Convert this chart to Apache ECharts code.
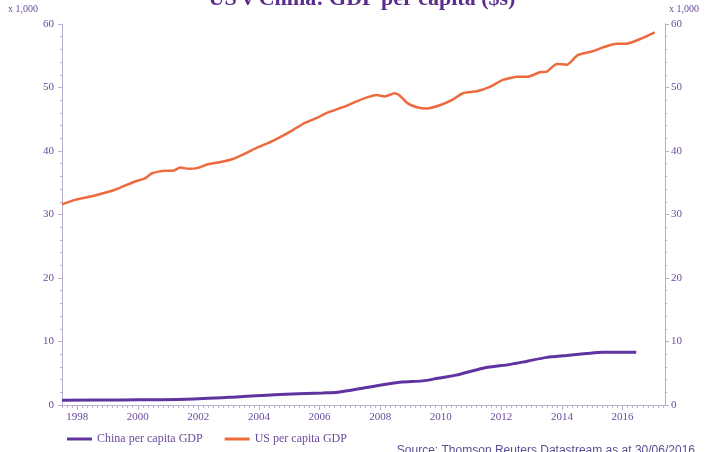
<!DOCTYPE html>
<html>
<head>
<meta charset="utf-8">
<script src="https://cdn.jsdelivr.net/npm/echarts@6/dist/echarts.min.js"></script>
<style>
  html, body { margin: 0; padding: 0; background: #ffffff; }
  #chart { width: 724px; height: 452px; }
</style>
</head>
<body>
<div id="chart"></div>
<script>
// US nominal GDP per capita, thousands of dollars
const usYears = [1997.5, 1997.93, 1998.59, 1999.25, 1999.91, 2000.24, 2000.47, 2000.90, 2001.17, 2001.40,
  2001.66, 2001.96, 2002.32, 2002.78, 2003.11, 2003.54, 2003.97, 2004.46, 2005.12, 2005.50,
  2005.91, 2006.24, 2006.77, 2007.43, 2007.89, 2008.15, 2008.48, 2008.65, 2008.91, 2009.21,
  2009.54, 2009.97, 2010.36, 2010.73, 2011.19, 2011.62, 2012.05, 2012.54, 2012.87, 2013.27,
  2013.50, 2013.83, 2014.16, 2014.52, 2015.01, 2015.34, 2015.80, 2016.13, 2016.56, 2017.06];
const usGdp = [31.6, 32.3, 33.0, 33.9, 35.2, 35.7, 36.5, 36.9, 36.9, 37.4,
  37.2, 37.3, 37.9, 38.3, 38.7, 39.6, 40.6, 41.6, 43.3, 44.4,
  45.2, 46.0, 46.9, 48.2, 48.8, 48.6, 49.1, 48.7, 47.5, 46.9,
  46.7, 47.2, 48.0, 49.1, 49.4, 50.1, 51.2, 51.7, 51.7, 52.4,
  52.5, 53.7, 53.6, 55.1, 55.7, 56.3, 56.9, 56.9, 57.6, 58.7];

// China nominal GDP per capita, thousands of dollars
const chinaYears = [1997.5, 1999.5, 2001.6, 2003.4, 2004.5, 2006.1, 2006.6, 2007.6, 2008.65, 2009.4,
  2009.9, 2010.5, 2011.4, 2012.3, 2012.85, 2013.5, 2014.15, 2014.8, 2015.35, 2016.45];
const chinaGdp = [0.75, 0.8, 0.9, 1.3, 1.6, 1.9, 2.0, 2.8, 3.6, 3.8,
  4.2, 4.7, 5.8, 6.4, 6.9, 7.5, 7.8, 8.1, 8.3, 8.3];

// Axis labelling
const yearLabels = [1998, 2000, 2002, 2004, 2006, 2008, 2010, 2012, 2014, 2016];
const xMin = 1997.5;
const xMax = 2017.4;
const yMin = 0;
const yMax = 60;
const yStep = 10;

const seriesNames = ['China per capita GDP', 'US per capita GDP'];
const chartTitle = 'US v China: GDP per capita ($s)';
const unitNote = 'x 1,000';
const sourceNote = 'Source: Thomson Reuters Datastream as at 30/06/2016';

const zip = (xs, ys) => xs.map((x, i) => [x, ys[i]]);

// small ticks along the time axis, six per year
const fineTicks = [];
for (let k = 0; xMin + k / 6 <= xMax + 1e-9; k++) fineTicks.push(+(xMin + k / 6).toFixed(4));

const purple = '#6a4a9e';
const axisColour = '#b9aecb';
const serif = '"Liberation Serif", "DejaVu Serif", serif';

const yAxisBase = (pos) => ({
  type: 'value',
  position: pos,
  min: yMin,
  max: yMax,
  interval: yStep,
  axisLine: { show: true, lineStyle: { color: axisColour, width: 1 } },
  axisTick: { show: true, length: 4, lineStyle: { color: axisColour } },
  minorTick: { show: true, splitNumber: 5, length: 2, lineStyle: { color: axisColour } },
  splitLine: { show: false },
  minorSplitLine: { show: false },
  axisLabel: { color: purple, fontFamily: serif, fontSize: 11, margin: pos === 'left' ? 8 : 6 }
});

const chart = echarts.init(document.getElementById('chart'), null, { renderer: 'canvas' });

chart.setOption({
  backgroundColor: '#ffffff',
  animation: false,
  grid: { left: 62, right: 59, top: 24, bottom: 47, containLabel: false, outerBoundsMode: 'none' },
  graphic: [
    {
      type: 'text', left: 'center', top: -12,
      style: { text: chartTitle, fill: '#5a2d8c', font: 'bold 22px ' + serif }
    },
    {
      type: 'text', left: 8, top: 4,
      style: { text: unitNote, fill: purple, font: '10px ' + serif }
    },
    {
      type: 'text', left: 669, top: 4,
      style: { text: unitNote, fill: purple, font: '10px ' + serif }
    },
    {
      type: 'text', right: 29, top: 445,
      style: { text: sourceNote, fill: '#5b4d92', font: '12px "Liberation Sans", Arial, sans-serif' }
    }
  ],
  legend: {
    left: 62,
    top: 428,
    itemWidth: 25,
    itemHeight: 3,
    itemGap: 22,
    icon: 'rect',
    textStyle: { color: purple, fontFamily: serif, fontSize: 12 },
    data: seriesNames
  },
  xAxis: [
    {
      type: 'value',
      min: xMin,
      max: xMax,
      position: 'bottom',
      axisLine: { show: true, onZero: false, lineStyle: { color: axisColour, width: 1 } },
      axisTick: { show: true, customValues: yearLabels, length: 5, lineStyle: { color: axisColour } },
      axisLabel: {
        customValues: yearLabels,
        color: purple, fontFamily: serif, fontSize: 11, margin: 7,
        formatter: (v) => String(Math.round(v))
      },
      splitLine: { show: false }
    },
    {
      type: 'value',
      min: xMin,
      max: xMax,
      position: 'bottom',
      axisLine: { show: false, onZero: false },
      axisTick: { show: true, customValues: fineTicks, length: 3, lineStyle: { color: axisColour } },
      axisLabel: { show: false },
      splitLine: { show: false }
    }
  ],
  yAxis: [yAxisBase('left'), yAxisBase('right')],
  series: [
    {
      name: seriesNames[0],
      type: 'line',
      xAxisIndex: 0,
      yAxisIndex: 0,
      data: zip(chinaYears, chinaGdp),
      showSymbol: false,
      symbol: 'none',
      smooth: 0.3,
      itemStyle: { color: '#5f34a0' },
      lineStyle: { color: '#5f34a0', width: 3 }
    },
    {
      name: seriesNames[1],
      type: 'line',
      xAxisIndex: 0,
      yAxisIndex: 0,
      data: zip(usYears, usGdp),
      showSymbol: false,
      symbol: 'none',
      smooth: 0.2,
      itemStyle: { color: '#ee6a3e' },
      lineStyle: { color: '#ee6a3e', width: 2.5 }
    }
  ]
});
</script>
</body>
</html>
